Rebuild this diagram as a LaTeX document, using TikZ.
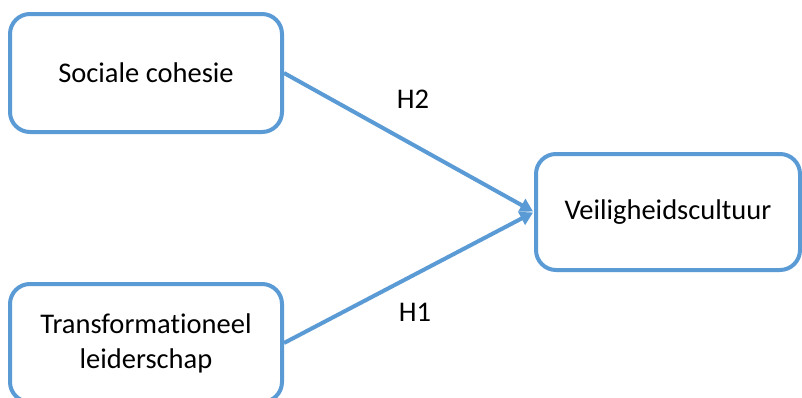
\documentclass[tikz,border=0pt]{standalone}
\usepackage{fontspec}
\setmainfont{Carlito}[Ligatures={NoCommon}]
\usetikzlibrary{arrows.meta}
\definecolor{boxblue}{RGB}{91,155,213}
\tikzset{
  box/.style={draw=boxblue, line width=4pt, rounded corners=20pt, fill=white,
    align=center, font=\fontsize{28.5}{35}\selectfont, inner sep=0pt},
  arr/.style={draw=boxblue, line width=4pt, -{Triangle[length=13pt,width=14pt]}, shorten >=1pt},
  lbl/.style={font=\fontsize{28.5}{34}\selectfont, inner sep=0pt}
}
\begin{document}
\begin{tikzpicture}[x=1pt,y=-1pt]
\clip (0,0) rectangle (802,397);
\fill[white] (0,0) rectangle (802,397);
\node[box, minimum width=272pt, minimum height=118pt] (b1) at (146,73) {Sociale cohesie};
\node[box, minimum width=264pt, minimum height=116pt] (b2) at (668,212) {Veiligheidscultuur};
\node[box, minimum width=272pt, minimum height=118pt] (b3) at (146,343) {Transformationeel\\leiderschap};
\draw[arr] (b1.east) -- (b2.west);
\draw[arr] (b3.east) -- (b2.west);
\node[lbl] (h2) at (413,99) {H2};
\node[lbl] (h1) at (415,312) {H1};
\end{tikzpicture}
\end{document}
